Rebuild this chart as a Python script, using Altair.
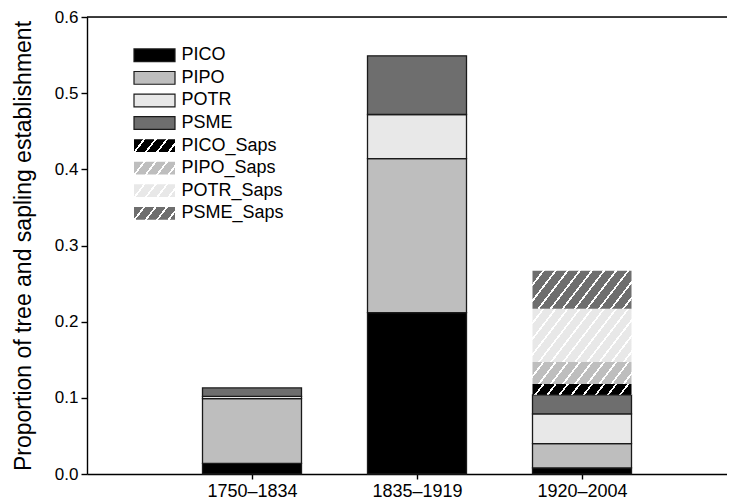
import json
import math
import altair as alt
import pandas as pd

# ---------------- data ----------------
periods = ["1750–1834", "1835–1919", "1920–2004"]
species = ["PICO", "PIPO", "POTR", "PSME",
           "PICO_Saps", "PIPO_Saps", "POTR_Saps", "PSME_Saps"]
colors = ["#000000", "#bebebe", "#e8e8e8", "#6e6e6e",
          "#000000", "#bebebe", "#e8e8e8", "#6e6e6e"]
# proportion of establishment per species (same order as `species`)
p1750 = [0.014, 0.085, 0.003, 0.011, 0.0, 0.0, 0.0, 0.0]
p1835 = [0.212, 0.202, 0.058, 0.077, 0.0, 0.0, 0.0, 0.0]
p1920 = [0.008, 0.032, 0.039, 0.025, 0.014, 0.029, 0.070, 0.050]
y_ticks = [0.0, 0.1, 0.2, 0.3, 0.4, 0.5, 0.6]

# ---------------- layout ----------------
W, H = 640, 457
X_MAX = 640 / 165.0
Y_MAX = 0.6
HALF = 0.3                     # half bar width in x units
FONT = "Liberation Sans"

rows = []
for pi, vals in enumerate([p1750, p1835, p1920]):
    for si, v in enumerate(vals):
        if v > 0:
            rows.append({"period": periods[pi], "pos": pi + 1,
                         "species": species[si], "order": si, "value": v})
df = pd.DataFrame(rows)


def hatch(color, w, h, slope=1.3, period=9.6, line=1.7):
    """Linear gradient with hard stops producing diagonal white hatching."""
    a, b = slope * w / h, 1.0
    k = (a + b) / (a * a + b * b)
    grad = math.sqrt((a / w) ** 2 + (b / h) ** 2) / (a + b)
    pt, lt = period * grad, line * grad
    stops = []
    t = 0.0
    while t < 1.0:
        m = min(t + pt - lt, 1.0)
        e = min(t + pt, 1.0)
        stops += [{"offset": round(t, 5), "color": color},
                  {"offset": round(m, 5), "color": color}]
        if m < 1.0:
            stops += [{"offset": round(m, 5), "color": "#ffffff"},
                      {"offset": round(e, 5), "color": "#ffffff"}]
        t += pt
    return {"gradient": "linear", "x1": 0, "y1": 0,
            "x2": round(k * a, 5), "y2": round(k * b, 5), "stops": stops}


base = (alt.Chart(df)
        .transform_stack(stack="value", groupby=["period"], as_=["y0", "y1"],
                         sort=[alt.SortField("order", order="ascending")])
        .transform_calculate(xl=f"datum.pos - {HALF}", xr=f"datum.pos + {HALF}"))

xscale = alt.Scale(domain=[0, X_MAX], nice=False, zero=False)
yscale = alt.Scale(domain=[0, Y_MAX], nice=False)
label_expr = json.dumps(periods, ensure_ascii=False) + "[datum.value - 1]"
xenc = alt.X("xl:Q", scale=xscale,
             axis=alt.Axis(values=[1, 2, 3], labelExpr=label_expr, title=None,
                           tickSize=5, labelFontSize=18, labelPadding=3,
                           labelFont=FONT, labelColor="black", domainColor="black",
                           tickColor="black", domainWidth=1.4, tickWidth=1.4,
                           grid=False))
yenc = alt.Y("y0:Q", scale=yscale,
             axis=alt.Axis(values=y_ticks, format=".1f",
                           title="Proportion of tree and sapling establishment",
                           titleFont=FONT, titleFontSize=23, titleFontWeight="normal",
                           titleColor="black", titlePadding=19,
                           labelFont=FONT, labelFontSize=17, labelColor="black",
                           labelPadding=3, tickSize=6, domainColor="black",
                           tickColor="black", domainWidth=1.4, tickWidth=1.4,
                           grid=False))

solid = base.transform_filter("datum.order < 4").mark_rect(
    stroke="#1a1a1a", strokeWidth=1.3).encode(
    x=xenc, x2="xr:Q", y=yenc, y2="y1:Q",
    fill=alt.Fill("species:N", scale=alt.Scale(domain=species[:4], range=colors[:4]),
                  legend=None))

bar_layers = [solid]
px_x = W / X_MAX
px_y = H / Y_MAX
for si in range(4, 8):
    v = p1920[si]
    if v <= 0:
        continue
    g = hatch(colors[si], 2 * HALF * px_x, v * px_y)
    bar_layers.append(
        base.transform_filter(alt.datum.species == species[si]).mark_rect(
            strokeWidth=0).encode(
            x=alt.X("xl:Q", scale=xscale), x2="xr:Q",
            y=alt.Y("y0:Q", scale=yscale), y2="y1:Q",
            fill=alt.value(g)))

top_rule = alt.Chart(pd.DataFrame({"a": [0]})).mark_rule(
    color="black", strokeWidth=1.4).encode(y=alt.Y(datum=Y_MAX, scale=yscale))

bars = alt.layer(*bar_layers, top_rule)

# ---------------- legend ----------------
leg_df = pd.DataFrame({"species": species, "idx": list(range(len(species)))})
leg_y = alt.Y("idx:Q", scale=alt.Scale(domain=[0, 7], range=[38.3, 196.3], nice=False,
                                        zero=False), axis=None)
SYM_W, SYM_H = 41, 12.7
shape = "M-1,-0.31L1,-0.31L1,0.31L-1,0.31Z"
leg_base = alt.Chart(leg_df)
leg_layers = [
    leg_base.transform_filter("datum.idx < 4").mark_point(
        shape=shape, size=SYM_W ** 2, filled=True, opacity=1,
        stroke="#1a1a1a", strokeWidth=1.2).encode(
        x=alt.value(67.5), y=leg_y,
        fill=alt.Fill("species:N", scale=alt.Scale(domain=species[:4], range=colors[:4]),
                      legend=None))
]
for si in range(4, 8):
    leg_layers.append(
        leg_base.transform_filter(alt.datum.idx == si).mark_point(
            shape=shape, size=SYM_W ** 2, filled=True, opacity=1, strokeWidth=0).encode(
            x=alt.value(67.5), y=leg_y, fill=alt.value(hatch(colors[si], SYM_W, SYM_H,
                                                              period=9.0, line=1.7))))
leg_layers.append(
    leg_base.mark_text(align="left", baseline="middle", font=FONT, fontSize=18,
                       color="black").encode(
        x=alt.value(94.5), y=leg_y, text="species:N"))
legend = alt.layer(*leg_layers)

chart = (alt.layer(bars, legend)
         .resolve_scale(y="independent", fill="independent")
         .properties(width=W, height=H,
                     autosize=alt.AutoSizeParams(type="none"),
                     padding={"left": 79, "top": 9, "right": 0, "bottom": 26})
         .configure_view(strokeWidth=0)
         .configure(background="white"))

chart.save("out.html", embed_options={"renderer": "svg", "actions": False})
